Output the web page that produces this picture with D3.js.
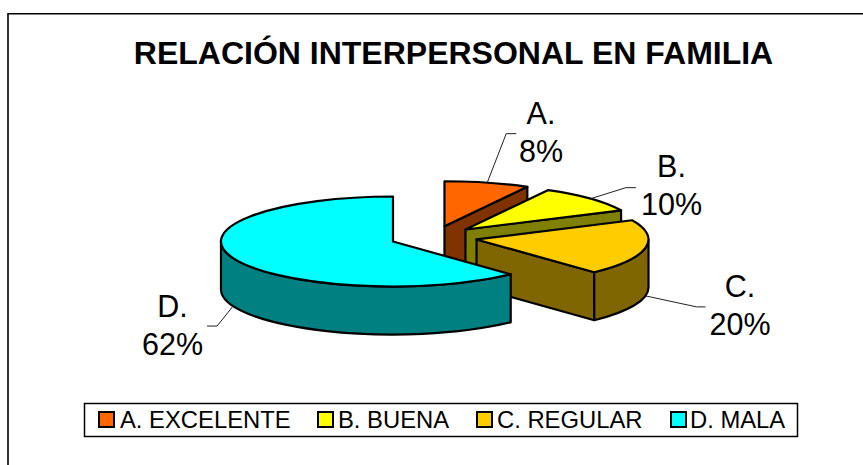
<!DOCTYPE html>
<html>
<head>
<meta charset="utf-8">
<script src="https://cdn.jsdelivr.net/npm/d3@7"></script>
<style>
  html, body { margin: 0; padding: 0; background: #fff; overflow: hidden; }
  text { font-family: "Liberation Sans", Arial, sans-serif; fill: #000; }
</style>
</head>
<body>
<svg id="chart1" width="863" height="465"></svg>
<script>
// chart values
var title = "RELACIÓN INTERPERSONAL EN FAMILIA";
var categories = ["A. EXCELENTE", "B. BUENA", "C. REGULAR", "D. MALA"];
var shortLabels = ["A.", "B.", "C.", "D."];
var percents = [8, 10, 20, 62];
var topColors = ["#ff6600", "#ffff00", "#ffcc00", "#00ffff"];
var sideColors = ["#803300", "#808000", "#806600", "#008080"];

// layout of the label callouts, relative to the point on the rim
var leaderElbows = [[19, -49], [35, -11], [51, 11], [-16, 20]];
var leaderTails = [10, 10, 9, -10];
var labelPos = [[541, 123.5], [671.5, 176.7], [740, 296.7], [172.5, 316.7]];
var legendSwatchX = [99, 318, 477, 671];
var legendTextX = [120, 338, 497, 690];

(function () {
  var svg = d3.select("#chart1");

  var rx = 172, ry = 45, depth = 48;     // tilted pie ellipse
  var cx = 433.6, cy = 237.3;            // centre before exploding
  var explode = 0.254;                   // fraction of the radius

  // outer chart frame, runs off the right and bottom of the picture
  svg.append("path")
    .attr("d", "M8,470V13.8H870")
    .attr("fill", "none")
    .attr("stroke", "#000")
    .attr("stroke-width", 1.6);

  svg.append("text")
    .attr("x", 453.5)
    .attr("y", 63.5)
    .attr("text-anchor", "middle")
    .attr("font-size", 32)
    .attr("font-weight", "bold")
    .text(title);

  // d3.pie gives the angles, clockwise from the top
  var arcs = d3.pie().sort(null).value(function(d) { return d; })(percents);

  function rim(a, o, dy) {
    return [o[0] + rx * Math.sin(a), o[1] - ry * Math.cos(a) + (dy || 0)];
  }
  function ellipseTo(a0, a1, o, dy) {
    var p = rim(a1, o, dy);
    var large = Math.abs(a1 - a0) > Math.PI ? 1 : 0;
    var sweep = a1 > a0 ? 1 : 0;
    return "A" + rx + "," + ry + " 0 " + large + " " + sweep + " " + p[0] + "," + p[1];
  }
  function radialFace(a, o) {
    var p = rim(a, o), q = rim(a, o, depth);
    return "M" + o + "L" + p + "L" + q + "L" + o[0] + "," + (o[1] + depth) + "Z";
  }

  var slices = svg.append("g");

  arcs.forEach(function(d, i) {
    var mid = (d.startAngle + d.endAngle) / 2;
    var o = [cx + explode * rx * Math.sin(mid), cy - explode * ry * Math.cos(mid)];
    var g = slices.append("g")
      .attr("stroke", "#000")
      .attr("stroke-width", 2.2)
      .attr("stroke-linejoin", "round");

    // only the cut faces turned towards the viewer get drawn
    if (Math.sin(d.endAngle) > 0.001) {
      g.append("path").attr("d", radialFace(d.endAngle, o)).attr("fill", sideColors[i]);
    }
    if (Math.sin(d.startAngle) < -0.001) {
      g.append("path").attr("d", radialFace(d.startAngle, o)).attr("fill", sideColors[i]);
    }

    // front part of the rim, between 90 and 270 degrees
    var a0 = Math.max(d.startAngle, Math.PI / 2);
    var a1 = Math.min(d.endAngle, 3 * Math.PI / 2);
    if (a1 > a0) {
      g.append("path")
        .attr("d", "M" + rim(a0, o) + ellipseTo(a0, a1, o) + "L" + rim(a1, o, depth) + ellipseTo(a1, a0, o, depth) + "Z")
        .attr("fill", sideColors[i]);
    }

    // top of the slice
    g.append("path")
      .attr("d", "M" + o + "L" + rim(d.startAngle, o) + ellipseTo(d.startAngle, d.endAngle, o) + "Z")
      .attr("fill", topColors[i]);

    // leader line starts at the middle of the slice, on the rim
    var onFront = Math.cos(mid) < 0;
    var s = rim(mid, o, onFront ? depth : 0);
    var e = [s[0] + leaderElbows[i][0], s[1] + leaderElbows[i][1]];
    svg.append("path")
      .attr("d", "M" + s + "L" + e + "H" + (e[0] + leaderTails[i]))
      .attr("fill", "none")
      .attr("stroke", "#222")
      .attr("stroke-width", 1);

    var label = svg.append("text")
      .attr("text-anchor", "middle")
      .attr("font-size", 30.5);
    label.append("tspan")
      .attr("x", labelPos[i][0])
      .attr("y", labelPos[i][1])
      .text(shortLabels[i]);
    label.append("tspan")
      .attr("x", labelPos[i][0])
      .attr("y", labelPos[i][1] + 38.5)
      .text(percents[i] + "%");
  });

  // legend
  svg.append("rect")
    .attr("x", 84.5)
    .attr("y", 403.5)
    .attr("width", 713)
    .attr("height", 33)
    .attr("fill", "#fff")
    .attr("stroke", "#000")
    .attr("stroke-width", 1.5);

  categories.forEach(function(c, i) {
    svg.append("rect")
      .attr("x", legendSwatchX[i])
      .attr("y", 412)
      .attr("width", 15)
      .attr("height", 15)
      .attr("fill", topColors[i])
      .attr("stroke", "#000")
      .attr("stroke-width", 2);
    svg.append("text")
      .attr("x", legendTextX[i])
      .attr("y", 428)
      .attr("font-size", 23.8)
      .text(c);
  });
}());
</script>
</body>
</html>
